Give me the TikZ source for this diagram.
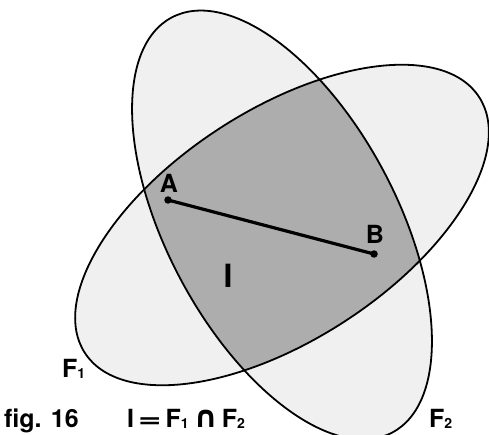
\documentclass[tikz,border=0pt]{standalone}
\usepackage{fontspec}
\setmainfont{TeX Gyre Heros}
\newfontfamily\symfont{DejaVu Sans}
\newcommand{\sbs}[1]{\raisebox{-1.5pt}{\fontsize{14}{14}\selectfont #1}}
\begin{document}
\begin{tikzpicture}[x=1pt,y=1pt,
  outline/.style={line width=1.8pt, black},
  lightfill/.style={fill=black!6},
  darkfill/.style={fill=black!32},
  seg/.style={line width=3.2pt, black},
  dot/.style={circle, fill=black, inner sep=0pt, minimum size=7.5pt},
  lbl/.style={font=\fontsize{25}{25}\selectfont\bfseries, inner sep=0pt},
  biglbl/.style={font=\fontsize{32}{32}\selectfont\bfseries, inner sep=0pt}]
\useasboundingbox (0,0) rectangle (489,434);
\coordinate (O) at (282,209);
% light fills
\fill[lightfill] (O) circle [x radius=235, y radius=115, rotate=33];
\fill[lightfill] (O) circle [x radius=235, y radius=115, rotate=-62];
% intersection I
\begin{scope}
  \clip (O) circle [x radius=235, y radius=115, rotate=33];
  \fill[darkfill] (O) circle [x radius=235, y radius=115, rotate=-62];
\end{scope}
% outlines
\draw[outline] (O) circle [x radius=235, y radius=115, rotate=33];
\draw[outline] (O) circle [x radius=235, y radius=115, rotate=-62];
% segment AB
\node[dot] (A) at (168,234) {};
\node[dot] (B) at (374,180) {};
\draw[seg] (A.center) -- (B.center);
% labels
\node[lbl, anchor=base] (labA) at (169,241) {A};
\node[lbl, anchor=base] (labB) at (375,191) {B};
\node[biglbl, anchor=base] (labI) at (228,147) {I};
\node[lbl, anchor=base west] (labF1) at (62,57) {F\sbs{1}};
\node[lbl, anchor=base west] (labF2) at (429,7) {F\sbs{2}};
\node[lbl, anchor=base west] (fig) at (4,7) {fig. 16};
\node[lbl, anchor=base west] (formula) at (127,7) {I\hspace{4pt}\scalebox{1.6}[1]{=}\hspace{4pt}F\sbs{1}\hspace{5pt}{\symfont\bfseries\fontsize{30}{30}\selectfont ∩}\hspace{4pt}F\sbs{2}};
\end{tikzpicture}
\end{document}
